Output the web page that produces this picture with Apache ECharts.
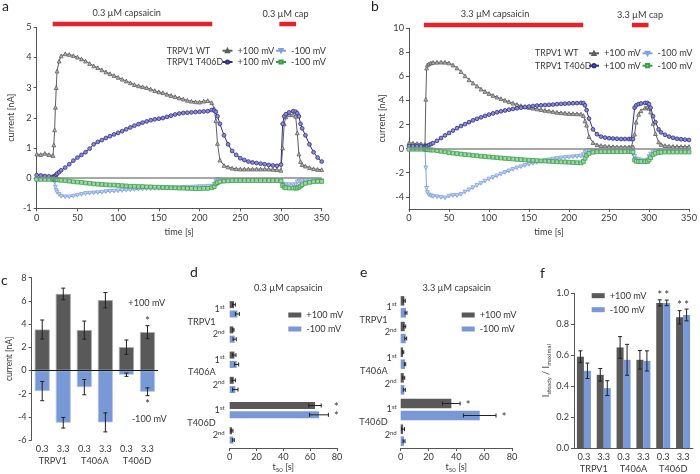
<!DOCTYPE html>
<html>
<head>
<meta charset="utf-8">
<script src="https://cdn.jsdelivr.net/npm/echarts@6/dist/echarts.min.js"></script>
<style>
html, body { margin: 0; padding: 0; background: #fff; }
#chart { width: 700px; height: 474px; }
</style>
</head>
<body>
<div id="chart"></div>
<script>
// ---- a: 0.3 uM capsaicin time course ----
const tA = [0,5,10,15,20, 21,22,23,24,25,27.5,30,
  35,40,45,50,55,60,65,70,75,80,85,90,95,100,105,110,115,120,125,130,135,140,145,150,155,160,165,170,175,180,185,190,195,200,205,210,215,
  218,220,222,225, 230,235,240,245,250,255,260,265,270,275,280,285,290,295,300,
  302,304,306,310,315,318,320,322,324,326, 330,335,340,345,350];
const aWtPos = [0.8,0.78,0.82,0.78,0.75, 1.1,1.6,2.35,3.0,3.55,3.88,4.05,
  4.12,4.1,4.06,4.01,3.95,3.88,3.8,3.72,3.66,3.59, 3.52,3.46,3.4,3.34,3.28,3.22,3.16,3.1,3.06,3.03,
  3.0,2.95,2.9,2.86,2.83,2.78,2.74,2.7,2.66,2.62, 2.58,2.55,2.53,2.52,2.55,2.57,2.5,
  2.3,1.9,1.15,0.6, 0.42,0.37,0.33,0.31,0.3,0.3,0.3,0.3,0.3,0.3,0.3,0.3,0.29,0.28,0.26,
  1.0,1.8,2.03,2.1,2.1,2.05,1.5,0.8,0.55,0.45, 0.4,0.35,0.31,0.29,0.28];
const aMutPos = [0.1,0.09,0.07,0.06,0.05, 0.05,0.06,0.08,0.11,0.15,0.2,0.26,
  0.35,0.46,0.58,0.68,0.77,0.86,0.98,1.12,1.2,1.26, 1.33,1.39,1.45,1.5,1.56,1.62,1.68,1.74,1.79,1.84,
  1.88,1.92,1.95,1.97,1.99,2.03,2.07,2.11,2.14,2.16, 2.17,2.18,2.19,2.2,2.21,2.22,2.26,
  2.24,2.2,2.05,1.8, 1.42,1.12,0.9,0.77,0.66,0.6,0.55,0.52,0.5,0.48,0.46,0.44,0.42,0.41,0.45,
  1.8,2.05,2.12,2.18,2.22,2.2,2.15,2.05,1.8,1.65, 1.42,1.12,0.86,0.68,0.55];
const aWtNeg = [-0.03,-0.03,-0.03,-0.03,-0.03, -0.06,-0.13,-0.3,-0.41,-0.47,-0.54,-0.6,
  -0.62,-0.62,-0.6,-0.57,-0.54,-0.51,-0.5,-0.49,-0.48,-0.47, -0.45,-0.44,-0.43,-0.42,-0.41,-0.4,-0.39,-0.38,-0.37,-0.36,
  -0.35,-0.35,-0.34,-0.34,-0.33,-0.33,-0.32,-0.32,-0.32,-0.31, -0.3,-0.3,-0.29,-0.28,-0.28,-0.27,-0.27,
  -0.2,-0.1,-0.04,-0.06, -0.08,-0.08,-0.08,-0.08,-0.08,-0.08,-0.08,-0.08,-0.08,-0.08,-0.08,-0.08,-0.08,-0.08,-0.08,
  -0.19,-0.22,-0.22,-0.22,-0.22,-0.22,-0.13,-0.1,-0.09,-0.08, -0.08,-0.08,-0.08,-0.08,-0.08];
const aMutNeg = [-0.04,-0.04,-0.04,-0.04,-0.04, -0.04,-0.05,-0.05,-0.05,-0.05,-0.06,-0.07,
  -0.08,-0.1,-0.12,-0.13,-0.14,-0.16,-0.17,-0.19,-0.2,-0.21, -0.22,-0.23,-0.23,-0.24,-0.25,-0.26,-0.27,-0.27,-0.28,-0.28,
  -0.29,-0.29,-0.3,-0.3,-0.31,-0.31,-0.32,-0.32,-0.33,-0.33, -0.34,-0.34,-0.35,-0.35,-0.34,-0.34,-0.32,
  -0.28,-0.19,-0.15,-0.12, -0.1,-0.09,-0.08,-0.08,-0.08,-0.08,-0.08,-0.08,-0.08,-0.08,-0.08,-0.08,-0.08,-0.08,-0.09,
  -0.24,-0.3,-0.32,-0.33,-0.33,-0.33,-0.33,-0.3,-0.26,-0.22, -0.17,-0.14,-0.12,-0.11,-0.11];
const aStim = [[19.6, 215.6], [298, 318.5]];

// ---- b: 3.3 uM capsaicin time course ----
const tB = [0,5,10,15,20, 21,22,23,25,27.5,30,
  35,40,45,50,55,60,65,70,75,80,85,90,95,100,105,110,115,120,125,130,135,140,145,150,155,160,165,170,175,180,185,190,195,200,205,210,215,
  218,220,222,225, 230,235,240,245,250,255,260,265,270,275,
  278,280,282,284,287,290,295,298,300,302,305,308,312,315, 320,325,330,335,340,345,350];
const bWtPos = [0.48,0.45,0.42,0.4,0.35, 4.1,6.7,6.95,7.05,7.12,7.16,
  7.18,7.19,7.18,7.12,6.95,6.7,6.4,6.05,5.72,5.45, 5.2,4.95,4.75,4.58,4.42,4.28,4.15,4.02,3.9,3.78,
  3.67,3.57,3.5,3.42,3.36,3.3,3.24,3.18,3.13,3.07, 3.02,2.98,2.95,2.92,2.9,2.89,2.87,
  2.75,2.3,1.95,1.0, 0.5,0.32,0.25,0.21,0.18,0.16,0.15,0.14,0.14,0.14,
  0.14,0.15,1.2,2.2,2.85,3.15,3.38,3.45,3.35,3.05,2.1,1.25,0.55,0.35, 0.25,0.21,0.19,0.18,0.17,0.17,0.17];
const bMutPos = [0.22,0.22,0.21,0.2,0.2, 0.2,0.21,0.23,0.3,0.38,0.46,
  0.65,0.88,1.1,1.3,1.5,1.7,1.88,2.04,2.2,2.35, 2.48,2.6,2.72,2.83,2.93,3.02,3.1,3.17,3.24,3.3,
  3.35,3.4,3.45,3.5,3.54,3.58,3.6,3.62,3.64,3.66, 3.7,3.72,3.74,3.76,3.77,3.78,3.8,
  3.78,3.6,3.2,2.5, 1.6,1.2,1.0,0.92,0.87,0.84,0.82,0.8,0.8,0.8,
  0.8,0.8,3.4,3.6,3.7,3.75,3.8,3.8,3.7,3.4,2.7,2.2,1.6,1.35, 1.15,1.0,0.9,0.82,0.78,0.75,0.72];
const bWtNeg = [-0.05,-0.05,-0.05,-0.05,-0.05, -1.6,-3.3,-3.65,-3.85,-3.92,-3.97,
  -4.0,-4.05,-4.1,-3.95,-3.88,-3.9,-3.8,-3.6,-3.42,-3.25, -3.05,-2.88,-2.7,-2.53,-2.4,-2.26,-2.12,-1.98,-1.85,-1.72,
  -1.6,-1.5,-1.4,-1.3,-1.22,-1.14,-1.06,-0.99,-0.93,-0.87, -0.82,-0.78,-0.74,-0.71,-0.68,-0.65,-0.62,
  -0.5,-0.3,-0.2,-0.17, -0.17,-0.17,-0.17,-0.17,-0.17,-0.17,-0.17,-0.17,-0.17,-0.17,
  -0.17,-0.2,-0.65,-0.85,-0.92,-0.95,-0.99,-0.95,-0.66,-0.45,-0.3,-0.24,-0.2,-0.19, -0.19,-0.19,-0.19,-0.19,-0.19,-0.19,-0.19];
const bMutNeg = [-0.05,-0.05,-0.05,-0.05,-0.06, -0.06,-0.07,-0.08,-0.1,-0.11,-0.12,
  -0.17,-0.22,-0.27,-0.33,-0.37,-0.41,-0.45,-0.49,-0.52,-0.56, -0.59,-0.63,-0.66,-0.69,-0.72,-0.75,-0.78,-0.81,-0.83,-0.86,
  -0.89,-0.91,-0.94,-0.96,-0.98,-1.0,-1.02,-1.03,-1.05,-1.07, -1.09,-1.1,-1.11,-1.13,-1.15,-1.17,-1.18,
  -1.07,-0.8,-0.55,-0.4, -0.3,-0.26,-0.25,-0.25,-0.25,-0.25,-0.25,-0.25,-0.25,-0.25,
  -0.25,-0.28,-0.94,-1.05,-1.07,-1.07,-1.08,-1.07,-0.94,-0.75,-0.5,-0.38,-0.32,-0.3, -0.28,-0.28,-0.28,-0.28,-0.28,-0.28,-0.28];
const bStim = [[18.6, 217.8], [278.7, 299.4]];

// ---- c: peak currents ----
const doseGroups = ['TRPV1', 'T406A', 'T406D'];
const doseLabels = ['0.3', '3.3', '0.3', '3.3', '0.3', '3.3'];
const cPos = [3.53, 6.6, 3.48, 6.06, 2.01, 3.3];
const cPosErr = [0.82, 0.5, 0.78, 0.66, 0.62, 0.56];
const cNeg = [-1.78, -4.51, -1.44, -4.48, -0.37, -1.84];
const cNegErr = [0.83, 0.46, 0.66, 0.82, 0.14, 0.34];
const cPosSig = [0, 0, 0, 0, 0, 1];
const cNegSig = [0, 0, 0, 0, 0, 1];

// ---- d, e: t50 ----
const pulseLabels = ['1st', '2nd', '1st', '2nd', '1st', '2nd'];
const dPos = [3.2, 2.7, 3.5, 3.0, 63.6, 1.7];
const dPosErr = [1.0, 0.5, 1.2, 1.2, 4.6, 0.7];
const dNeg = [5.7, 3.7, 5.2, 4.2, 66.6, 2.7];
const dNegErr = [1.5, 1.2, 1.5, 2.0, 7.0, 0.7];
const dSig = [0, 0, 0, 0, 1, 0];
const ePos = [2.6, 2.9, 1.7, 2.2, 36.4, 1.7];
const ePosErr = [0.7, 0.7, 0.5, 0.7, 6.3, 1.0];
const eNeg = [3.8, 3.6, 3.1, 2.6, 56.8, 2.4];
const eNegErr = [0.7, 0.7, 0.5, 0.7, 11.7, 0.7];
const eSig = [0, 0, 0, 0, 1, 0];

// ---- f: steady / maximal ----
const fPos = [0.59, 0.473, 0.65, 0.57, 0.938, 0.845];
const fPosErr = [0.038, 0.041, 0.07, 0.06, 0.02, 0.043];
const fNeg = [0.499, 0.387, 0.57, 0.563, 0.938, 0.86];
const fNegErr = [0.05, 0.048, 0.1, 0.065, 0.018, 0.038];
const fSig = [0, 0, 0, 0, 1, 1];

const FONT = 'Lato, "Open Sans", sans-serif';
const FS = 9.2;
const TXT = '#3a3a3a';
const AX = '#555';
const GREY = '#5e5e5e', NAVY = '#302e8c', LBLUE = '#7fa0e0', GREEN = '#37a048';
const BGREY = '#595959', BBLUE = '#7898d6';
const ERR = '#222';

const chart = echarts.init(document.getElementById('chart'));

function lbl(extra) {
  return Object.assign({ fontSize: FS, color: TXT, fontFamily: FONT }, extra || {});
}

function trace(name, t, v, color, fill, symbol, ax) {
  return {
    name, type: 'line', xAxisIndex: ax, yAxisIndex: ax,
    data: t.map((x, i) => [x, v[i]]),
    symbol, symbolSize: 3.8, showSymbol: true,
    lineStyle: { color, width: 1 },
    itemStyle: { color: fill, borderColor: color, borderWidth: 0.8 },
    animation: false
  };
}
const triDown = 'path://M0,0 L10,0 L5,9 Z';

function vErr(xi, yi, vals, errs, sig, shift, below, groupMax) {
  const data = vals.map((v, i) => {
    let ref = below ? v - errs[i] : v + errs[i];
    if (groupMax) ref = groupMax[i];
    return [i, v - errs[i], v + errs[i], sig[i], ref];
  });
  return {
    type: 'custom', xAxisIndex: xi, yAxisIndex: yi, data, z: 10, silent: true,
    encode: { x: 0, y: [1, 2] },
    renderItem: (p, api) => {
      const i = api.value(0);
      const lo = api.coord([i, api.value(1)]);
      const hi = api.coord([i, api.value(2)]);
      const x = lo[0] + shift;
      const st = { stroke: ERR, lineWidth: 1 };
      const ch = [
        { type: 'line', shape: { x1: x, y1: lo[1], x2: x, y2: hi[1] }, style: st },
        { type: 'line', shape: { x1: x - 2, y1: lo[1], x2: x + 2, y2: lo[1] }, style: st },
        { type: 'line', shape: { x1: x - 2, y1: hi[1], x2: x + 2, y2: hi[1] }, style: st }
      ];
      if (api.value(3)) {
        const s = api.coord([i, api.value(4)]);
        ch.push({ type: 'text', x: x, y: below ? s[1] + 9 : s[1] - 4,
          style: { text: '*', fontSize: 11, fontFamily: FONT, fill: '#333', align: 'center', verticalAlign: 'middle' } });
      }
      return { type: 'group', children: ch };
    }
  };
}

function hErr(xi, yi, vals, errs, sig, shift, groupMax) {
  const data = vals.map((v, i) => [i, v - errs[i], v + errs[i], sig[i], groupMax ? groupMax[i] : v + errs[i]]);
  return {
    type: 'custom', xAxisIndex: xi, yAxisIndex: yi, data, z: 10, silent: true,
    encode: { y: 0, x: [1, 2] },
    renderItem: (p, api) => {
      const i = api.value(0);
      const lo = api.coord([api.value(1), i]);
      const hi = api.coord([api.value(2), i]);
      const y = lo[1] + shift;
      const st = { stroke: ERR, lineWidth: 1 };
      const ch = [
        { type: 'line', shape: { x1: lo[0], y1: y, x2: hi[0], y2: y }, style: st },
        { type: 'line', shape: { x1: lo[0], y1: y - 2, x2: lo[0], y2: y + 2 }, style: st },
        { type: 'line', shape: { x1: hi[0], y1: y - 2, x2: hi[0], y2: y + 2 }, style: st }
      ];
      if (api.value(3)) {
        const s = api.coord([api.value(4), i]);
        ch.push({ type: 'text', x: s[0] + 8, y: y + 2,
          style: { text: '*', fontSize: 11, fontFamily: FONT, fill: '#333', align: 'center', verticalAlign: 'middle' } });
      }
      return { type: 'group', children: ch };
    }
  };
}

function valAxis(gi, min, max, interval, extra) {
  return Object.assign({
    type: 'value', gridIndex: gi, min, max, interval,
    splitLine: { show: false },
    axisLine: { show: true, onZero: false, lineStyle: { color: AX, width: 1 } },
    axisTick: { show: true, length: 3, lineStyle: { color: AX } },
    axisLabel: lbl({ margin: 5 })
  }, extra || {});
}
function catAxis(gi, data, extra) {
  return Object.assign({
    type: 'category', gridIndex: gi, data,
    axisLine: { show: false, onZero: false },
    axisTick: { show: false },
    axisLabel: lbl({ margin: 5 })
  }, extra || {});
}

const sup = { n: { fontSize: FS, color: TXT, fontFamily: FONT }, s: { fontSize: 6, color: TXT, fontFamily: FONT, verticalAlign: 'top', padding: [0, 0, 5, 0] } };
const sub = { n: { fontSize: FS, color: TXT, fontFamily: FONT }, s: { fontSize: 6, color: TXT, fontFamily: FONT, padding: [5, 0, 0, 0] } };
const pulseFmt = v => '{n|' + v.slice(0, 1) + '}{s|' + v.slice(1) + '}';
const mvFmt = n => n.slice(n.lastIndexOf(' ') + 1) + ' mV';

const dMax = dPos.map((v, i) => Math.max(v + dPosErr[i], dNeg[i] + dNegErr[i]));
const fMax = fPos.map((v, i) => Math.max(v + fPosErr[i], fNeg[i] + fNegErr[i]));

const lineLegend = {
  orient: 'vertical', padding: 0, itemWidth: 10, itemHeight: 4, selectedMode: false,
  formatter: mvFmt
};
const barLegend = {
  orient: 'vertical', padding: 0, icon: 'rect', itemWidth: 13, itemHeight: 5, itemGap: 2, selectedMode: false,
  formatter: n => n.slice(2), textStyle: lbl({ lineHeight: 12 })
};

const option = {
  animation: false,
  textStyle: { fontFamily: FONT },
  grid: [
    { left: 36.7, top: 27.3, width: 285, height: 181 },
    { left: 409, top: 28.3, width: 281.7, height: 180.5 },
    { left: 31.7, top: 277.7, width: 126.3, height: 162.3 },
    { left: 229.7, top: 296.7, width: 107.3, height: 151.6 },
    { left: 400.7, top: 294, width: 111.3, height: 154.5 },
    { left: 574, top: 293.3, width: 119, height: 155 }
  ],
  xAxis: [
    valAxis(0, 0, 350, 50, { name: 'time [s]', nameLocation: 'middle', nameGap: 19, nameTextStyle: lbl() }),
    valAxis(1, 0, 350, 50, { name: 'time [s]', nameLocation: 'middle', nameGap: 19, nameTextStyle: lbl() }),
    catAxis(2, doseLabels, { position: 'bottom' }),
    catAxis(2, doseGroups, { position: 'bottom', offset: 12 }),
    valAxis(3, 0, 80, 20, { name: '{n|t}{s|50}{n| [s]}', nameLocation: 'middle', nameGap: 14, nameTextStyle: { rich: sub } }),
    valAxis(4, 0, 80, 20, { name: '{n|t}{s|50}{n| [s]}', nameLocation: 'middle', nameGap: 14, nameTextStyle: { rich: sub } }),
    catAxis(5, doseLabels, { position: 'bottom', axisLine: { show: true, onZero: false, lineStyle: { color: AX } } }),
    catAxis(5, doseGroups, { position: 'bottom', offset: 12 })
  ],
  yAxis: [
    valAxis(0, -1, 5, 1, { name: 'current [nA]', nameLocation: 'middle', nameGap: 21, nameTextStyle: lbl() }),
    valAxis(1, -5, 10, 1, {
      name: 'current [nA]', nameLocation: 'middle', nameGap: 22, nameTextStyle: lbl(),
      axisTick: { show: true, length: 3, lineStyle: { color: AX }, customValues: [-4, -2, 0, 2, 4, 6, 8, 10] },
      axisLabel: lbl({ margin: 5, customValues: [-4, -2, 0, 2, 4, 6, 8, 10] })
    }),
    valAxis(2, -6, 8, 2, { name: 'current [nA]', nameLocation: 'middle', nameGap: 16, nameTextStyle: lbl({ fontSize: 8.5 }) }),
    catAxis(3, pulseLabels, { position: 'left', inverse: true, axisLabel: { margin: 5, formatter: pulseFmt, rich: sup } }),
    catAxis(3, doseGroups, { position: 'left', inverse: true, axisLabel: lbl({ margin: 14 }) }),
    catAxis(4, pulseLabels, { position: 'left', inverse: true, axisLabel: { margin: 4, formatter: pulseFmt, rich: sup } }),
    catAxis(4, doseGroups, { position: 'left', inverse: true, axisLabel: lbl({ margin: 13 }) }),
    valAxis(5, 0, 1, 0.2, {
      axisLabel: lbl({ margin: 5, formatter: v => v.toFixed(1) }),
      name: '{n|I}{s|steady}{n| / I}{s|maximal}', nameLocation: 'middle', nameGap: 22, nameTextStyle: { rich: sub }
    })
  ],
  legend: [
    Object.assign({ data: ['a WT +100', 'a D +100'], left: 221.5, top: 45.2, itemGap: 0.3, textStyle: lbl({ lineHeight: 11 }) }, lineLegend),
    Object.assign({ data: ['a WT -100', 'a D -100'], left: 275, top: 45.2, itemGap: 0.3, textStyle: lbl({ lineHeight: 11 }) }, lineLegend),
    Object.assign({ data: ['b WT +100', 'b D +100'], left: 588, top: 47.3, itemGap: 0.4, textStyle: lbl({ lineHeight: 12 }) }, lineLegend),
    Object.assign({ data: ['b WT -100', 'b D -100'], left: 641.5, top: 47.3, itemGap: 0.4, textStyle: lbl({ lineHeight: 12 }) }, lineLegend),
    Object.assign({ data: ['d +100 mV', 'd -100 mV'], left: 288.3, top: 309 }, barLegend),
    Object.assign({ data: ['e +100 mV', 'e -100 mV'], left: 461.7, top: 309 }, barLegend),
    Object.assign({ data: ['f +100 mV', 'f -100 mV'], left: 591.7, top: 289.7, itemGap: 1.3 }, barLegend)
  ],
  series: [
    Object.assign(trace('a WT +100', tA, aWtPos, GREY, '#b5b5b5', 'triangle', 0), {
      markLine: { silent: true, symbol: 'none', label: { show: false }, lineStyle: { color: '#8a8a8a', width: 1.5, type: 'solid' }, data: [{ yAxis: 0 }] }
    }),
    trace('a D +100', tA, aMutPos, NAVY, '#8e8cd0', 'circle', 0),
    trace('a WT -100', tA, aWtNeg, LBLUE, '#c9d7f4', triDown, 0),
    trace('a D -100', tA, aMutNeg, GREEN, '#9fd6a7', 'rect', 0),
    Object.assign(trace('b WT +100', tB, bWtPos, GREY, '#b5b5b5', 'triangle', 1), {
      markLine: { silent: true, symbol: 'none', label: { show: false }, lineStyle: { color: '#8a8a8a', width: 1.5, type: 'solid' }, data: [{ yAxis: 0 }] }
    }),
    trace('b D +100', tB, bMutPos, NAVY, '#8e8cd0', 'circle', 1),
    trace('b WT -100', tB, bWtNeg, LBLUE, '#c9d7f4', triDown, 1),
    trace('b D -100', tB, bMutNeg, GREEN, '#9fd6a7', 'rect', 1),

    { name: 'c +100 mV', type: 'bar', xAxisIndex: 2, yAxisIndex: 2, data: cPos, barWidth: 15, barGap: '-100%',
      itemStyle: { color: BGREY, borderColor: '#a8a8a8', borderWidth: 0.8 },
      markLine: { silent: true, symbol: 'none', label: { show: false }, lineStyle: { color: '#1a1a1a', width: 1.2, type: 'solid' }, data: [{ yAxis: 0 }] } },
    { name: 'c -100 mV', type: 'bar', xAxisIndex: 2, yAxisIndex: 2, data: cNeg, barWidth: 15, barGap: '-100%',
      itemStyle: { color: BBLUE, borderColor: '#b5c6ea', borderWidth: 0.8 } },
    vErr(2, 2, cPos, cPosErr, cPosSig, 0, false),
    vErr(2, 2, cNeg, cNegErr, cNegSig, 0, true),

    { name: 'd +100 mV', type: 'bar', xAxisIndex: 4, yAxisIndex: 3, data: dPos, barWidth: 7, barGap: '33%', itemStyle: { color: BGREY } },
    { name: 'd -100 mV', type: 'bar', xAxisIndex: 4, yAxisIndex: 3, data: dNeg, barWidth: 7, barGap: '33%', itemStyle: { color: BBLUE } },
    hErr(4, 3, dPos, dPosErr, dSig, -4.65, dMax),
    hErr(4, 3, dNeg, dNegErr, dSig, 4.65, dMax),

    { name: 'e +100 mV', type: 'bar', xAxisIndex: 5, yAxisIndex: 5, data: ePos, barWidth: 9.5, barGap: '26%', itemStyle: { color: BGREY } },
    { name: 'e -100 mV', type: 'bar', xAxisIndex: 5, yAxisIndex: 5, data: eNeg, barWidth: 9.5, barGap: '26%', itemStyle: { color: BBLUE } },
    hErr(5, 5, ePos, ePosErr, eSig, -6),
    hErr(5, 5, eNeg, eNegErr, eSig, 6),

    { name: 'f +100 mV', type: 'bar', xAxisIndex: 6, yAxisIndex: 7, data: fPos, barWidth: 7, barGap: '0%', itemStyle: { color: BGREY } },
    { name: 'f -100 mV', type: 'bar', xAxisIndex: 6, yAxisIndex: 7, data: fNeg, barWidth: 7, barGap: '0%', itemStyle: { color: BBLUE } },
    vErr(6, 7, fPos, fPosErr, fSig, -3.5, false, fMax),
    vErr(6, 7, fNeg, fNegErr, fSig, 3.5, false, fMax)
  ]
};
chart.setOption(option);

// annotations: stimulus bars from the time axes, panel letters and text
function txt(s, x, y, opts) {
  return Object.assign({ type: 'text', x, y, silent: true,
    style: Object.assign({ text: s, fontSize: FS, fontFamily: FONT, fill: TXT, align: 'left', verticalAlign: 'middle' }, (opts || {})) });
}
const gfx = [];
[[aStim, 0, 5], [bStim, 1, 10]].forEach(([stim, gi, top]) => {
  stim.forEach(([t0, t1]) => {
    const p0 = chart.convertToPixel({ gridIndex: gi }, [t0, top]);
    const p1 = chart.convertToPixel({ gridIndex: gi }, [t1, top]);
    gfx.push({ type: 'rect', silent: true, shape: { x: p0[0], y: p0[1] - 5.5, width: p1[0] - p0[0], height: 4.5 }, style: { fill: '#e8202a' } });
  });
});
[['a', 2, 6], ['b', 371, 6], ['c', 1, 280], ['d', 190, 272], ['e', 360, 272], ['f', 540, 273]].forEach(([s, x, y]) => {
  gfx.push(txt(s, x, y, { fontSize: 14, fill: '#222' }));
});
gfx.push(txt('0.3 µM capsaicin', 126.7, 12.7, { align: 'center' }));
gfx.push(txt('0.3 µM cap', 285.5, 14, { align: 'center' }));
gfx.push(txt('3.3 µM capsaicin', 495, 14, { align: 'center' }));
gfx.push(txt('3.3 µM cap', 640, 15, { align: 'center' }));
gfx.push(txt('TRPV1 WT', 166.7, 50.7, { fontSize: 8.8 }));
gfx.push(txt('TRPV1 T406D', 166.7, 62, { fontSize: 8.8 }));
gfx.push(txt('TRPV1 WT', 535, 53.3, { fontSize: 8.8 }));
gfx.push(txt('TRPV1 T406D', 535, 65.7, { fontSize: 8.8 }));
gfx.push(txt('+100 mV', 128.3, 302.7));
gfx.push(txt('-100 mV', 131.7, 419.3));
gfx.push(txt('0.3 µM capsaicin', 288.3, 288.3, { align: 'center' }));
gfx.push(txt('3.3 µM capsaicin', 456.7, 288.3, { align: 'center' }));
chart.setOption({ graphic: gfx });
</script>
</body>
</html>
